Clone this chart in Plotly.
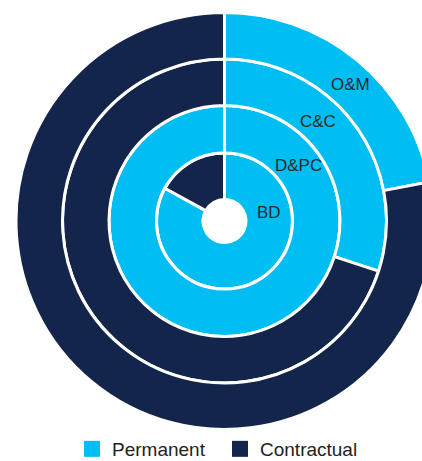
import plotly.graph_objects as go

# ---- data ----
rings = ["BD", "D&PC", "C&C", "O&M"]          # inner -> outer
series = ["Permanent", "Contractual"]
permanent = [83, 100, 30, 22]
contractual = [17, 0, 70, 78]
colors = ["#00BDF2", "#13254A"]

# ---- layout geometry (pixels) ----
W, H = 450, 480
cx, cy = 224.5, 221            # centre of the rings (from top-left)
edges = [21.5, 68, 115.5, 162, 208.5]   # radii of ring boundaries

fig = go.Figure()
for i, name in enumerate(rings):
    r_in, r_out = edges[i], edges[i + 1]
    fig.add_trace(go.Pie(
        labels=series,
        values=[permanent[i], contractual[i]],
        name=name,
        hole=r_in / r_out,
        sort=False,
        direction="clockwise",
        rotation=0,
        textinfo="none",
        marker=dict(colors=colors, line=dict(color="white", width=3)),
        domain=dict(x=[(cx - r_out) / W, (cx + r_out) / W],
                    y=[(H - cy - r_out) / H, (H - cy + r_out) / H]),
        showlegend=False,
    ))

# legend entries
for s, c in zip(series, colors):
    fig.add_trace(go.Scatter(x=[None], y=[None], mode="markers", name=s,
                             marker=dict(symbol="square", size=18, color=c),
                             showlegend=True))

# ring labels
label_pos = [(269, 212), (298, 165), (318, 121), (350, 84)]
for name, (px, py) in zip(rings, label_pos):
    fig.add_annotation(text=name, x=px / W, y=(H - py) / H, xref="paper", yref="paper",
                       showarrow=False, xanchor="center", yanchor="middle",
                       font=dict(family="Liberation Sans, Arial", size=17, color="#2b2b2b"))

fig.update_layout(
    width=W, height=H,
    margin=dict(l=0, r=0, t=0, b=0),
    paper_bgcolor="white", plot_bgcolor="white",
    xaxis=dict(visible=False), yaxis=dict(visible=False),
    legend=dict(orientation="h", x=72 / W, xanchor="left", y=(H - 449) / H, yanchor="middle",
                entrywidth=103, entrywidthmode="pixels",
                font=dict(family="Liberation Sans, Arial", size=19, color="#222222"),
                itemsizing="trace", bgcolor="rgba(0,0,0,0)"),
)

fig.write_html("out.html", config={"displayModeBar": False},
               post_script="document.body.style.margin='0';document.body.style.overflow='hidden';")
